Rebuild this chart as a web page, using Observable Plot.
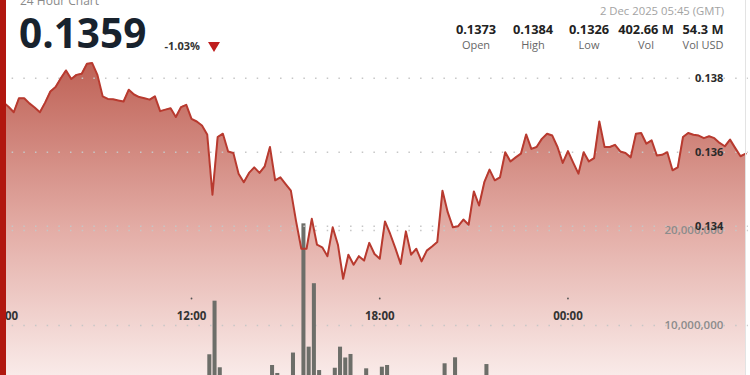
<!DOCTYPE html>
<html><head><meta charset="utf-8">
<script src="https://cdn.jsdelivr.net/npm/d3@7"></script>
<script src="https://cdn.jsdelivr.net/npm/@observablehq/plot@0.6"></script>
<style>
html,body{margin:0;padding:0;background:#fff;overflow:hidden}
#wrap{position:relative;width:750px;height:375px;overflow:hidden;font-family:"Open Sans",sans-serif}
#wrap svg{position:absolute;left:0;top:0;overflow:hidden;background:transparent}
.t{position:absolute;line-height:1;white-space:nowrap}
.c{transform:translateX(-50%)}
</style></head><body>
<div id="wrap"></div>
<script>
// ---- data ----
const startTime = "2025-12-01T06:00:00Z";
const endTime = "2025-12-02T05:45:00Z";
const stepMinutes = 10;
const prices = [
0.13735,0.13723,0.13708,0.13746,0.13746,0.13732,0.13721,0.13708,0.13734,0.13764,
0.13776,0.13800,0.13821,0.13798,0.13809,0.13812,0.13839,0.13841,0.13809,0.13751,
0.13744,0.13743,0.13740,0.13737,0.13769,0.13756,0.13749,0.13746,0.13742,0.13751,
0.13711,0.13715,0.13719,0.13695,0.13722,0.13728,0.13690,0.13683,0.13672,0.13648,
0.13485,0.13641,0.13650,0.13602,0.13598,0.13542,0.13519,0.13544,0.13559,0.13544,
0.13562,0.13614,0.13524,0.13532,0.13514,0.13496,0.13413,0.13339,0.13339,0.13420,
0.13350,0.13343,0.13319,0.13397,0.13350,0.13258,0.13323,0.13296,0.13319,0.13307,
0.13355,0.13325,0.13312,0.13413,0.13379,0.13340,0.13298,0.13386,0.13323,0.13339,
0.13305,0.13334,0.13345,0.13357,0.13496,0.13438,0.13397,0.13400,0.13418,0.13404,
0.13494,0.13456,0.13519,0.13553,0.13524,0.13532,0.13600,0.13575,0.13586,0.13596,
0.13648,0.13609,0.13614,0.13636,0.13650,0.13645,0.13614,0.13571,0.13603,0.13572,
0.13542,0.13600,0.13575,0.13584,0.13683,0.13614,0.13614,0.13620,0.13602,0.13598,
0.13586,0.13650,0.13652,0.13623,0.13632,0.13591,0.13593,0.13600,0.13551,0.13559,
0.13641,0.13652,0.13647,0.13645,0.13638,0.13643,0.13638,0.13625,0.13616,0.13634,
0.13611,0.13589,0.13596];
const volumesMillions = [
2.1,1.8,2.6,1.5,3.2,2.4,1.9,2.8,3.5,2.2,
1.7,2.9,3.8,2.5,2.0,3.1,4.2,2.7,3.4,2.3,
1.6,2.2,1.9,2.5,3.0,2.1,1.8,2.4,2.9,1.7,
3.3,2.6,2.2,3.6,2.8,2.4,3.9,3.1,4.1,
6.92,12.56,5.55,
4.3,3.6,3.9,4.4,3.2,3.8,4.1,3.5,4.6,
5.79,4.95,3.9,4.5,7.1,4.4,20.7,7.72,14.4,5.26,4.2,4.6,5.5,7.72,6.58,6.95,4.4,4.1,5.44,3.8,4.3,5.61,5.79,
4.2,3.6,4.5,3.9,3.3,4.0,3.7,4.4,3.5,4.1,
5.97,4.3,6.6,3.9,4.2,3.6,4.6,3.8,5.89,
3.4,2.9,3.7,3.1,4.0,2.6,3.3,3.8,2.8,3.2,
2.5,3.6,2.9,4.1,3.0,2.7,3.5,2.4,3.9,3.1,
2.8,4.3,2.9,3.2,2.6,3.4,2.3,3.0,2.7,3.6,
2.5,2.9,3.3,2.2,2.8,3.1,2.6,3.7,2.4,2.9,
3.2,2.1,2.7,3.0,2.5,3.4,2.3,2.8,3.1,2.6];
const priceTicks = [0.134, 0.136, 0.138];
const volumeTicks = [10000000, 20000000];
const timeTicks = ["2025-12-01T06:00:00Z","2025-12-01T12:00:00Z","2025-12-01T18:00:00Z","2025-12-02T00:00:00Z"];
const chartTitle = "24 Hour Chart";
const lastPrice = "0.1359";
const changePct = "-1.03%";
const stampText = "2 Dec 2025 05:45 (GMT)";
const statValues = ["0.1373","0.1384","0.1326","402.66 M","54.3 M"];
const statLabels = ["Open","High","Low","Vol","Vol USD"];

// ---- build ----
const t0 = new Date(startTime);
const step = stepMinutes * 60000;
const rows = prices.map((p, i) => ({
  time: new Date(+t0 + i * step),
  end: new Date(+t0 + (i + 1) * step),
  price: p,
  volume: volumesMillions[i] * 1e6
}));
const ticks = timeTicks.map(s => new Date(s));
const fmtTime = d3.utcFormat("%H:%M");

const common = {
  width: 750, height: 375,
  marginLeft: 2.8, marginRight: 2.15,
  x: {type: "utc", domain: [t0, new Date(endTime)], axis: null},
  style: {fontFamily: "Open Sans", background: "transparent", overflow: "hidden"}
};
const dotted = {stroke: "#c6c6c6", strokeWidth: 1.5, strokeDasharray: "1.5,10.17", strokeDashoffset: 2.84, strokeLinecap: "butt"};
const priceY = {marginTop: 40.7, marginBottom: 1.3, y: {domain: [0.13, 0.139], axis: null}};

const gradient = () => {
  const defs = d3.create("svg:defs");
  const g = defs.append("linearGradient").attr("id", "priceGrad")
    .attr("gradientUnits", "userSpaceOnUse")
    .attr("x1", 0).attr("x2", 0).attr("y1", 55).attr("y2", 400);
  g.append("stop").attr("offset", 0).attr("stop-color", "#bd5e52");
  g.append("stop").attr("offset", 0.5).attr("stop-color", "#e3aca5");
  g.append("stop").attr("offset", 1).attr("stop-color", "#fdf5f4");
  return defs.node();
};

const plotArea = Plot.plot({
  ...common, ...priceY,
  marks: [
    gradient,
    Plot.areaY(rows, {x: "time", y1: 0.1298, y2: "price", fill: "url(#priceGrad)"})
  ]
});

const plotVolume = Plot.plot({
  ...common,
  marginTop: 40, marginBottom: -45,
  y: {domain: [0, 40000000], axis: null},
  marks: [
    Plot.ruleY(volumeTicks, dotted),
    Plot.rectY(rows, {x1: "time", x2: "end", y1: 0, y2: "volume", fill: "#6d6e69", insetLeft: 0.6, insetRight: 0.6}),
    Plot.text(volumeTicks, {y: d => d, text: d => d3.format(",")(d), frameAnchor: "right", textAnchor: "end", dx: -25, fill: "#8c8c8c", fontSize: 11.5, fontWeight: 600})
  ]
});

const plotLine = Plot.plot({
  ...common, ...priceY,
  marks: [
    Plot.ruleY(priceTicks, dotted),
    Plot.lineY(rows, {x: "time", y: "price", stroke: "#b83a2f", strokeWidth: 2}),
    Plot.text(priceTicks, {y: d => d, text: d => d3.format(".3f")(d), frameAnchor: "right", textAnchor: "end", dx: -25, fill: "#2a2a2a", fontSize: 11, fontWeight: 700}),
    Plot.dot(ticks, {x: d => d, frameAnchor: "bottom", dy: -75.7, r: 0.9, fill: "#555", stroke: null}),
    Plot.text(ticks, {x: d => d, text: d => fmtTime(d), frameAnchor: "bottom", dy: -54.5, fill: "#333", fontSize: 11.5, fontWeight: 700})
  ]
});

const wrap = document.getElementById("wrap");
wrap.append(plotArea, plotVolume, plotLine);

function addText(txt, css, cls) {
  const el = document.createElement("div");
  el.className = "t" + (cls ? " " + cls : "");
  el.textContent = txt;
  el.style.cssText = css;
  wrap.appendChild(el);
  return el;
}
// frame decorations
const leftBar = document.createElement("div");
leftBar.style.cssText = "position:absolute;left:0;top:0;width:6px;height:375px;background:#b1170f";
wrap.appendChild(leftBar);
const rightLine = document.createElement("div");
rightLine.style.cssText = "position:absolute;left:744.5px;top:0;width:1.5px;height:375px;background:#e3e3e3";
wrap.appendChild(rightLine);

addText(chartTitle, "left:20px;top:-4.7px;font-size:12px;color:#8a8a8a");
addText(lastPrice, "left:19px;top:12.5px;font-size:40.5px;font-weight:700;color:#18222d");
addText(changePct, "left:164.5px;top:39.5px;font-size:11px;font-weight:700;color:#333");
const tri = document.createElement("div");
tri.style.cssText = "position:absolute;left:207.5px;top:41.7px;width:0;height:0;border-left:6.5px solid transparent;border-right:6.5px solid transparent;border-top:10.5px solid #bf1e1e";
wrap.appendChild(tri);
addText(stampText, "right:26px;top:5px;font-size:11.3px;color:#a3a3a3");
const statX = [476, 533, 589, 646, 703];
statValues.forEach((v, i) => addText(v, `left:${statX[i]}px;top:22.5px;font-size:12.8px;font-weight:700;color:#222`, "c"));
statLabels.forEach((v, i) => addText(v, `left:${statX[i]}px;top:38.5px;font-size:11px;color:#666`, "c"));
</script>
</body></html>
